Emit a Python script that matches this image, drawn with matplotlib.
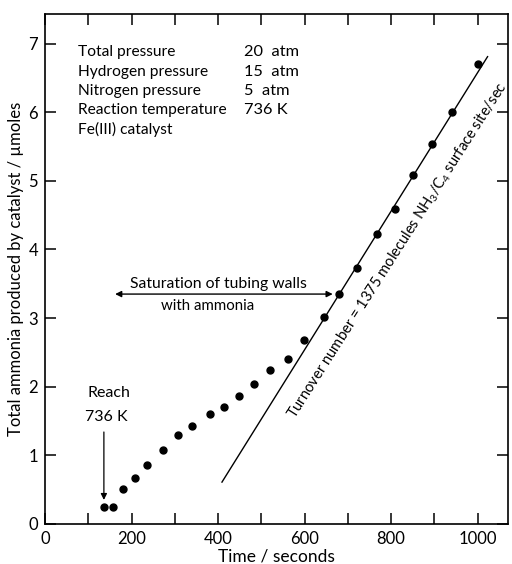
import numpy as np
import matplotlib
matplotlib.use('Agg')
import matplotlib.pyplot as plt

plt.rcParams['font.family'] = ['Lato', 'DejaVu Sans']
plt.rcParams['mathtext.fontset'] = 'custom'
plt.rcParams['mathtext.rm'] = 'Lato'
plt.rcParams['mathtext.it'] = 'Lato'

# measured points (time in s, ammonia in umol)
time_s = [136, 157, 180, 208, 235, 273, 307, 340, 381, 413, 449, 483,
          521, 561, 598, 644, 679, 720, 767, 808, 850, 894, 940, 1002]
ammonia = [0.25, 0.25, 0.51, 0.67, 0.86, 1.08, 1.30, 1.43, 1.60, 1.71, 1.87, 2.04,
           2.24, 2.41, 2.68, 3.02, 3.35, 3.73, 4.23, 4.59, 5.09, 5.54, 6.00, 6.70]

# turnover line end points
fit_x = [409, 1023]
fit_y = [0.61, 6.81]

conditions = ['Total pressure', 'Hydrogen pressure', 'Nitrogen pressure',
              'Reaction temperature', 'Fe(III) catalyst']
condition_values = ['20  atm', '15  atm', '5  atm', '736 K', '']

fig = plt.figure(figsize=(5.12, 5.64), dpi=100)
ax = fig.add_axes([0.088, 0.071, 0.904, 0.904])

ax.plot(time_s, ammonia, 'o', color='black', markersize=5)
ax.plot(fit_x, fit_y, '-', color='black', lw=1.0)

ax.set_xlim(0, 1070)
ax.set_ylim(0, 7.43)
ax.set_xticks([0, 200, 400, 600, 800, 1000])
ax.set_xticks(np.arange(100, 1001, 200), minor=True)
ax.set_yticks(range(0, 8))
ax.tick_params(direction='in', length=8, width=1.1, labelsize=12,
               top=True, right=True, which='both')
ax.tick_params(axis='x', pad=5)
ax.tick_params(axis='y', pad=5)
for s in ax.spines.values():
    s.set_linewidth(1.2)

ax.set_xlabel('Time / seconds', fontsize=12.5, labelpad=1)
ax.set_ylabel('Total ammonia produced by catalyst / µmoles', fontsize=12, labelpad=3)

# experimental conditions block
for i, (c, v) in enumerate(zip(conditions, condition_values)):
    y = 0.925 - i * 0.038
    ax.text(0.072, y, c, transform=ax.transAxes, fontsize=11.2, va='center')
    ax.text(0.43, y, v, transform=ax.transAxes, fontsize=11.8, va='center')

# saturation arrow
ax.annotate('', xy=(162, 3.35), xytext=(665, 3.35),
            arrowprops=dict(arrowstyle='<|-|>', color='black', lw=1.0,
                            mutation_scale=9, shrinkA=0, shrinkB=0))
ax.text(400, 3.49, 'Saturation of tubing walls', fontsize=11.3, ha='center', va='center')
ax.text(375, 3.17, 'with ammonia', fontsize=10.8, ha='center', va='center')

# reach 736 K arrow
ax.text(148, 1.91, 'Reach', fontsize=11.5, ha='center', va='center')
ax.text(142, 1.56, '736 K', fontsize=11.5, ha='center', va='center')
ax.annotate('', xy=(136, 0.35), xytext=(136, 1.34),
            arrowprops=dict(arrowstyle='-|>', color='black', lw=0.9,
                            mutation_scale=9, shrinkA=0, shrinkB=0))

ax.text(815, 3.98, 'Turnover number = 1375 molecules NH$_3$/C$_4$ surface site/sec',
        fontsize=10.6, rotation=57.5, rotation_mode='anchor', ha='center', va='center')

plt.savefig('out.png', dpi=100)
